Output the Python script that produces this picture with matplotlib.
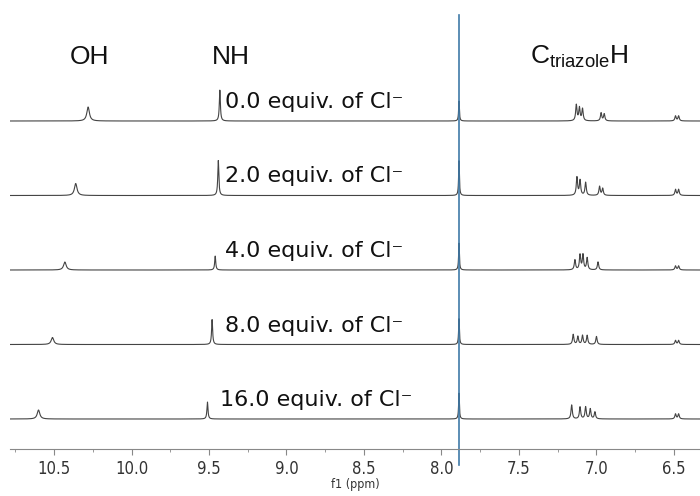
import numpy as np
import matplotlib.pyplot as plt
from matplotlib.ticker import MultipleLocator

# titration labels, top to bottom
labels = ["0.0", "2.0", "4.0", "8.0", "16.0"]

# OH and NH shifts (ppm) and peak heights for each spectrum
oh_ppm = [10.28, 10.36, 10.43, 10.51, 10.60]
oh_h = [14, 12, 8, 7, 9]
nh_ppm = [9.43, 9.44, 9.46, 9.48, 9.51]
nh_h = [31, 35, 14, 25, 17]

# reference / solvent peak under the blue line
ref_ppm = 7.887
ref_h = [20, 35, 27, 26, 26]

# aromatic peaks (ppm, height) for each spectrum
arom = [
    [(7.13, 16), (7.11, 13), (7.09, 12), (6.97, 8), (6.95, 7), (6.49, 5), (6.47, 5)],
    [(7.126, 18), (7.106, 15), (7.07, 13), (6.98, 9), (6.96, 7), (6.49, 6), (6.47, 6)],
    [(7.139, 10), (7.106, 15), (7.087, 15), (7.06, 12), (6.99, 8), (6.49, 4), (6.47, 4)],
    [(7.15, 10), (7.12, 8), (7.09, 9), (7.06, 9), (7.00, 8), (6.49, 4), (6.47, 4)],
    [(7.16, 14), (7.106, 12), (7.07, 12), (7.04, 10), (7.01, 7), (6.49, 5), (6.47, 5)],
]


def lorentz(x, x0, h, w):
    return h * w**2 / ((x - x0)**2 + w**2)


fig = plt.figure(figsize=(7, 4.96), dpi=100)
ax = fig.add_axes([10/700, 47/496, 690/700, 449/496])

x = np.linspace(10.8, 6.3, 6000)
spacing = 74.5
base0 = 30

for i in range(5):
    y = np.zeros_like(x)
    y += lorentz(x, oh_ppm[i], oh_h[i], 0.010)
    y += lorentz(x, nh_ppm[i], nh_h[i], 0.004)
    y += lorentz(x, ref_ppm, ref_h[i], 0.003)
    for p, h in arom[i]:
        y += lorentz(x, p, h, 0.005)
    off = base0 + (4 - i) * spacing
    ax.plot(x, y + off, color="#444444", lw=0.8)
    ax.text(9.40 if i < 4 else 9.43, off + 19, labels[i] + " equiv. of Cl\u207b",
            fontsize=16, family="DejaVu Sans",
            ha="left", va="center", color="#111111")

hfont = dict(fontsize=19, family=["Liberation Sans", "DejaVu Sans"], va="center", color="#111111")
ax.text(10.27, 392, "OH", ha="center", **hfont)
ax.text(9.36, 392, "NH", ha="center", **hfont)
ax.text(7.43, 392, r"C$_{\mathregular{triazole}}$H", ha="left", **hfont)

ax.axvline(ref_ppm, ymin=-0.036, ymax=0.967, color="#3f7aa8", lw=1.2, clip_on=False)

ax.set_xlim(10.784, 6.332)
ax.set_ylim(0, 449)
for s in ["top", "left", "right"]:
    ax.spines[s].set_visible(False)
ax.spines["bottom"].set_color("#888888")
ax.set_yticks([])
ax.xaxis.set_major_locator(MultipleLocator(0.5))
ax.xaxis.set_minor_locator(MultipleLocator(0.25))
ax.tick_params(axis="x", which="major", length=4, color="#888888", labelsize=12,
               labelcolor="#333333", pad=4)
ax.tick_params(axis="x", which="minor", length=2.5, color="#888888")
for t in ax.get_xticklabels():
    t.set_family("DejaVu Sans")
    t.set_fontstretch("condensed")
ax.set_xlabel("f1 (ppm)", fontsize=9, color="#333333", labelpad=0,
              family="DejaVu Sans", fontstretch="condensed")

fig.savefig("out.png", dpi=100)
